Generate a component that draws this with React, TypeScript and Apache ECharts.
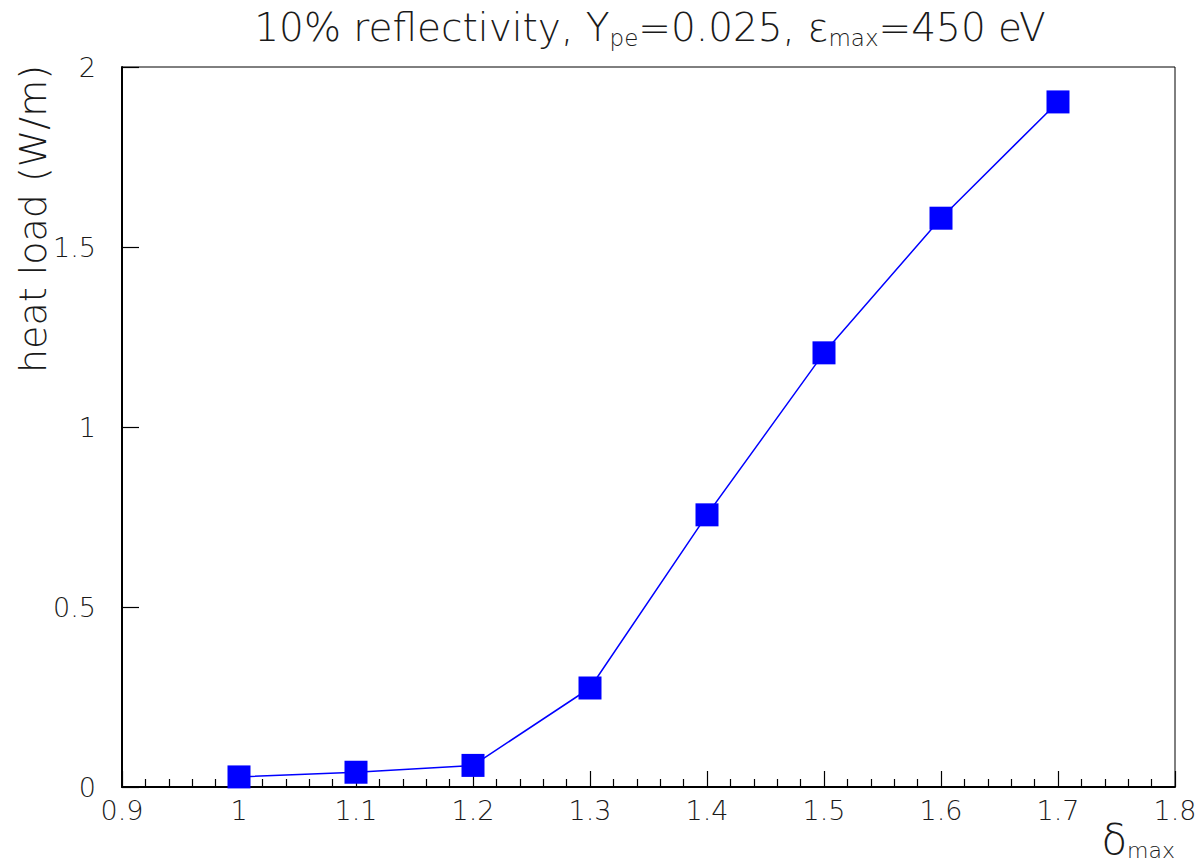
import React, { useEffect, useRef } from "react";
import * as echarts from "echarts";

// δ_max values and the resulting heat load (W/m)
const deltaMax = [1.0, 1.1, 1.2, 1.3, 1.4, 1.5, 1.6, 1.7];
const heatLoad = [0.028, 0.041, 0.06, 0.275, 0.756, 1.206, 1.58, 1.903];

const xTicks = { min: 0.9, max: 1.8, step: 0.1 };
const yTicks = { min: 0, max: 2, step: 0.5 };

const FONT = "DejaVu Sans";
const WEIGHT = 200;
const TEXT_COLOR = "#1a1a1a";

const fmt = (v: number) => String(Math.round(v * 100) / 100);

export default function App() {
  const ref = useRef<HTMLDivElement>(null);

  useEffect(() => {
    if (!ref.current) return;
    const chart = echarts.init(ref.current, undefined, { renderer: "svg" });

    const base = { fontFamily: FONT, fontWeight: WEIGHT, color: TEXT_COLOR };
    const main = { ...base, fontSize: 39, lineHeight: 44 };
    const sub = {
      ...base,
      fontSize: 23,
      lineHeight: 23,
      padding: [24, 0, 0, 0],
      verticalAlign: "bottom",
    };

    chart.setOption({
      animation: false,
      backgroundColor: "#ffffff",
      title: {
        text: "{m|10% reflectivity, Y}{s|pe}{m|=0.025, ε}{s|max}{m|=450 eV}",
        left: 650,
        textAlign: "center",
        top: 5,
        padding: 0,
        textStyle: {
          ...base,
          fontSize: 39,
          rich: { m: main, s: sub },
        },
      },
      grid: {
        left: 122,
        right: 24,
        top: 67,
        bottom: 77,
        containLabel: false,
        outerBoundsMode: "none",
        show: true,
        borderColor: "#000",
        borderWidth: 1,
        backgroundColor: "transparent",
      },
      xAxis: {
        type: "value",
        min: xTicks.min,
        max: xTicks.max,
        interval: xTicks.step,
        name: "{d|δ}{s|max}",
        nameLocation: "end",
        nameGap: 0,
        nameMoveOverlap: false,
        nameTextStyle: {
          ...base,
          align: "right",
          verticalAlign: "top",
          padding: [30, 0, 0, 0],
          rich: {
            d: { ...base, fontSize: 42, lineHeight: 44 },
            s: {
              ...base,
              fontSize: 22,
              lineHeight: 22,
              padding: [24, 0, 0, 0],
              verticalAlign: "bottom",
            },
          },
        },
        axisLine: { show: true, onZero: false, lineStyle: { color: "#000", width: 2 } },
        axisTick: { show: true, inside: true, length: 16, lineStyle: { color: "#000", width: 1.2 } },
        minorTick: { show: true, splitNumber: 5, length: 8, lineStyle: { color: "#000", width: 1.2 } },
        splitLine: { show: false },
        axisLabel: {
          ...base,
          margin: 10,
          fontSize: 27,
          formatter: (v: number) => fmt(v),
        },
      },
      yAxis: {
        type: "value",
        min: yTicks.min,
        max: yTicks.max,
        interval: yTicks.step,
        name: "heat load (W/m)",
        nameLocation: "end",
        nameRotate: 90,
        nameGap: 2,
        nameMoveOverlap: false,
        nameTextStyle: {
          ...base,
          fontSize: 38,
          align: "right",
          verticalAlign: "bottom",
          padding: [0, 0, 70, 0],
        },
        axisLine: { show: true, onZero: false, lineStyle: { color: "#000", width: 2 } },
        axisTick: { show: true, inside: true, length: 17, lineStyle: { color: "#000", width: 1.2 } },
        splitLine: { show: false },
        axisLabel: {
          ...base,
          margin: 26,
          fontSize: 27,
          formatter: (v: number) => fmt(v),
        },
      },
      series: [
        {
          type: "line",
          data: deltaMax.map((x, i) => [x, heatLoad[i]]),
          symbol: "rect",
          symbolSize: 23,
          showSymbol: true,
          lineStyle: { color: "#0000ff", width: 1.5 },
          itemStyle: { color: "#0000ff" },
          z: 3,
        },
      ],
    });

    return () => chart.dispose();
  }, []);

  return (
    <div
      ref={ref}
      style={{ position: "fixed", left: 0, top: 0, width: 1199, height: 864, background: "#fff" }}
    />
  );
}
